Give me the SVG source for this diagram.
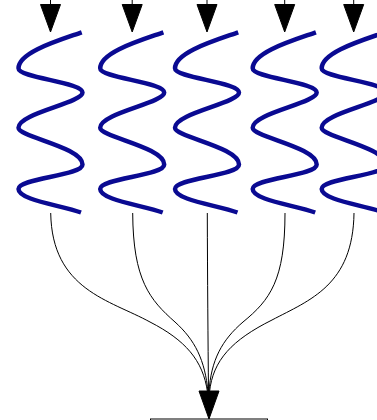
<svg xmlns="http://www.w3.org/2000/svg" xmlns:xlink="http://www.w3.org/1999/xlink" width="377" height="420" viewBox="0 0 377 420">
<style>
.wave{fill:none;stroke:#0a0a92;stroke-width:4.5;stroke-linecap:butt}
.edge{fill:none;stroke:#000;stroke-width:1}
.head{fill:#000;stroke:#000;stroke-width:1}
.box{fill:#fff;stroke:#000;stroke-width:1}
</style>
<defs>
<path id="squig" class="wave" d="M81.7,32.3 C60,40 18.5,52 18.5,68.3 C18.5,78 82.5,82 82.5,92.5 C82.5,103 18.5,113 18.5,127.7 C18.5,137 82.5,147 82.5,164.5 C82.5,176 18.5,178 18.5,189 C18.5,200 60,205 81,212.5"/>
</defs>
<rect width="377" height="420" fill="#fff"/>
<g id="node1"><use xlink:href="#squig"/></g>
<g id="node2"><use xlink:href="#squig" transform="translate(81.7,0)"/></g>
<g id="node3"><use xlink:href="#squig" transform="translate(156.5,0)"/></g>
<g id="node4"><use xlink:href="#squig" transform="translate(234.2,0)"/></g>
<g id="node5"><use xlink:href="#squig" transform="translate(303.2,0)"/></g>
<g id="node6"><rect class="box" x="150.5" y="419" width="117" height="20"/></g>
<g id="connectors">
<path class="edge" d="M50.5,0 V5"/>
<polygon class="head" points="40.5,4.5 60.5,4.5 50.5,32"/>
<path class="edge" d="M132.2,0 V5"/>
<polygon class="head" points="122.2,4.5 142.2,4.5 132.2,32"/>
<path class="edge" d="M207,0 V5"/>
<polygon class="head" points="197,4.5 217,4.5 207,32"/>
<path class="edge" d="M284.7,0 V5"/>
<polygon class="head" points="274.7,4.5 294.7,4.5 284.7,32"/>
<path class="edge" d="M353.7,0 V5"/>
<polygon class="head" points="343.7,4.5 363.7,4.5 353.7,32"/>
<path class="edge" d="M50.7,213 C52,290 110,300 150,322 C185,340 203,360 207.5,392"/>
<path class="edge" d="M132.7,213 C133,280 150,300 175,322 C195,340 205,360 208,392"/>
<path class="edge" d="M207.3,213 C207.5,280 208,340 208.5,392"/>
<path class="edge" d="M285,213 C285,280 270,300 243,322 C222,340 211,360 209,392"/>
<path class="edge" d="M354,213 C353,285 310,300 272,320 C232,340 213,360 209.5,392"/>
<polygon class="head" points="199,391 219,391 209,419"/>
</g>
</svg>
